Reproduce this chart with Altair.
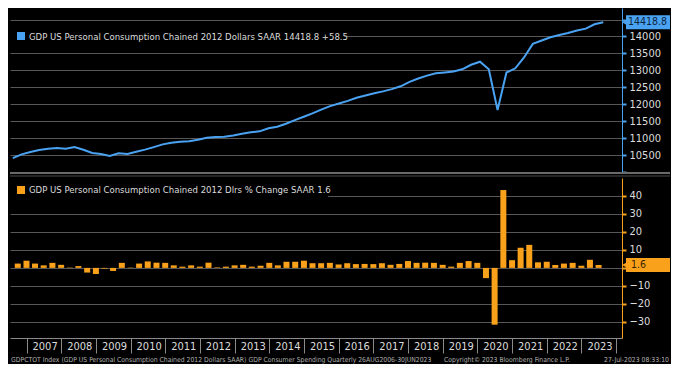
import altair as alt
import pandas as pd

# ---------------- data ----------------
quarters = pd.date_range("2006-09-30", periods=68, freq="QE").strftime("%Y-%m-%d").tolist()

pce_level = [
    10408, 10520, 10590, 10648, 10685, 10708, 10688, 10738, 10655, 10560,
    10530, 10470, 10555, 10530, 10595, 10660, 10735, 10815, 10860, 10890,
    10905, 10950, 11010, 11030, 11040, 11080, 11130, 11170, 11200, 11290,
    11335, 11425, 11530, 11630, 11730, 11840, 11944, 12020, 12100, 12190,
    12260, 12325, 12380, 12445, 12530, 12660, 12760, 12845, 12915, 12940,
    12965, 13030, 13165, 13255, 13030, 11830, 12936, 13060, 13380, 13780,
    13880, 13975, 14045, 14100, 14175, 14230, 14360, 14418.8,
]

pce_change = [
    2.4, 4.0, 2.4, 1.4, 2.8, 1.7, 0.2, 1.0, -2.6, -3.4,
    -0.4, -1.7, 2.8, 0.2, 2.4, 3.6, 2.9, 2.8, 1.4, 0.7,
    1.4, 0.7, 2.9, 0.3, 0.7, 1.4, 1.7, 0.7, 1.2, 2.8,
    1.4, 3.4, 3.4, 4.0, 2.6, 2.6, 2.8, 1.9, 2.6, 2.1,
    2.2, 2.1, 2.6, 1.7, 2.2, 3.8, 2.8, 2.9, 2.8, 1.7,
    0.7, 2.8, 3.8, 2.8, -5.7, -31.6, 43.3, 4.3, 11.2, 12.8,
    3.1, 3.4, 1.6, 2.4, 2.8, 1.2, 4.5, 1.6,
]

top_ticks = [10000, 10500, 11000, 11500, 12000, 12500, 13000, 13500, 14000, 14500]
bottom_ticks = [-30, -20, -10, 0, 10, 20, 30, 40]
year_ticks = list(range(2007, 2025))

top_legend = ["GDP US Personal Consumption Chained 2012 Dollars SAAR 14418.8  +58.5"]
bottom_legend = ["GDP US Personal Consumption Chained 2012 Dlrs % Change SAAR 1.6"]
footer_left = ["GDPCTOT Index (GDP US Personal Consumption Chained 2012 Dollars SAAR) GDP Consumer Spending  Quarterly 26AUG2006-30JUN2023"]
footer_mid = ["Copyright\u00a9 2023 Bloomberg Finance L.P."]
footer_right = ["27-Jul-2023 08:33:10"]

# ---------------- style ----------------
W = 612
H1 = 164
H2 = 160
BLUE = "#4aa3f2"
ORANGE = "#f9a11b"
GRID = "#575757"
TXT = "#dcdcdc"
FONT = "DejaVu Sans Condensed, Liberation Sans Narrow, Roboto, sans-serif"

top_df = pd.DataFrame({"date": quarters, "level": pce_level})
bot_df = pd.DataFrame({"date": quarters, "chg": pce_change})
one = pd.DataFrame({"k": [0]})

x_scale = alt.Scale(
    type="utc",
    domain=[alt.DateTime(year=2006, month=9, date=1, utc=True),
            alt.DateTime(year=2024, month=1, date=10, utc=True)],
)

y_top = alt.Scale(domain=[10000, 14840], nice=False, zero=False)
y_bot = alt.Scale(domain=[-39, 50], nice=False, zero=False)

# ---------------- top panel ----------------
line = alt.Chart(top_df).mark_line(color=BLUE, strokeWidth=2).encode(
    x=alt.X("date:T", scale=x_scale, axis=None),
    y=alt.Y("level:Q", scale=y_top, axis=alt.Axis(
        orient="right", values=top_ticks, tickCount=40, title=None,
        labelExpr="(datum.value == 10000 || datum.value == 14500) ? '' : datum.label",
        format="d", grid=True, gridColor=GRID, gridWidth=1, labelOverlap=False,
        domainColor=BLUE, tickColor=BLUE, tickSize=4, tickWidth=2,
        labelColor=TXT, labelFontSize=11, labelFont=FONT, labelPadding=3)),
)

top_box = alt.Chart(one).mark_rect(color="black").encode(
    x=alt.value(0), x2=alt.value(334), y=alt.value(16), y2=alt.value(41))
top_sq = alt.Chart(one).mark_rect(color=BLUE).encode(
    x=alt.value(7), x2=alt.value(15), y=alt.value(24), y2=alt.value(32))
top_txt = alt.Chart(pd.DataFrame({"t": top_legend})).mark_text(
    align="left", baseline="middle", color=TXT, fontSize=9.5, font=FONT).encode(
    x=alt.value(19), y=alt.value(28.5), text="t:N")

top_tag = alt.Chart(one).mark_rect(color=BLUE, yOffset=-7, y2Offset=7).encode(
    x=alt.value(W + 4), x2=alt.value(W + 48),
    y=alt.datum(pce_level[-1]), y2=alt.datum(pce_level[-1]))
top_ptr = alt.Chart(one).mark_point(shape="triangle-left", filled=True, color=BLUE,
                                    size=45, opacity=1).encode(
    x=alt.value(W + 3), y=alt.datum(pce_level[-1]))
top_tag_txt = alt.Chart(pd.DataFrame({"t": [f"{pce_level[-1]:.1f}"]})).mark_text(
    align="left", baseline="middle", color="#0d2340", fontSize=10.5, font=FONT).encode(
    x=alt.value(W + 6), y=alt.datum(pce_level[-1]), text="t:N")

sep1 = alt.Chart(one).mark_rule(color="#6a6a6a", strokeWidth=2).encode(
    x=alt.value(0), x2=alt.value(W + 48), y=alt.value(H1 + 1))
sep2 = alt.Chart(one).mark_rule(color="#4a4a4a", strokeWidth=1).encode(
    x=alt.value(0), x2=alt.value(W + 48), y=alt.value(H1 + 4))

top = alt.layer(line, top_box, top_sq, top_txt, top_tag, top_ptr, top_tag_txt, sep1, sep2).properties(
    width=W, height=H1)

# ---------------- bottom panel ----------------
bars = alt.Chart(bot_df).mark_bar(size=6, color=ORANGE).encode(
    x=alt.X("date:T", scale=x_scale, axis=alt.Axis(
        values=[alt.DateTime(year=y, month=1, date=1, utc=True) for y in year_ticks],
        tickCount=40,
        labelExpr="utcFormat(datum.value, '%Y') == '2024' ? '' : utcFormat(datum.value, '%Y')",
        title=None, grid=False, tickSize=15, tickColor="#8a8a8a", domainColor="#8a8a8a",
        labelOffset=18, labelPadding=-13, labelColor=TXT, labelFontSize=11, labelFont=FONT,
        labelOverlap=False, labelFlush=False, labelBaseline="top")),
    y=alt.Y("chg:Q", scale=y_bot, axis=alt.Axis(
        orient="right", values=bottom_ticks, tickCount=40, title=None,
        labelExpr="datum.value == 0 ? '' : datum.label",
        grid=True, gridColor=GRID, gridWidth=1, labelOverlap=False,
        domainColor=ORANGE, tickColor=ORANGE, tickSize=4, tickWidth=2,
        labelColor=TXT, labelFontSize=11, labelFont=FONT, labelPadding=3)),
    y2=alt.datum(0),
)

bot_box = alt.Chart(one).mark_rect(color="black").encode(
    x=alt.value(0), x2=alt.value(318), y=alt.value(3), y2=alt.value(21))
bot_sq = alt.Chart(one).mark_rect(color=ORANGE).encode(
    x=alt.value(7), x2=alt.value(15), y=alt.value(8), y2=alt.value(16))
bot_txt = alt.Chart(pd.DataFrame({"t": bottom_legend})).mark_text(
    align="left", baseline="middle", color=TXT, fontSize=9.5, font=FONT).encode(
    x=alt.value(19), y=alt.value(12), text="t:N")

bot_tag = alt.Chart(one).mark_rect(color=ORANGE, yOffset=-7, y2Offset=7).encode(
    x=alt.value(W + 4), x2=alt.value(W + 48),
    y=alt.datum(pce_change[-1]), y2=alt.datum(pce_change[-1]))
bot_ptr = alt.Chart(one).mark_point(shape="triangle-left", filled=True, color=ORANGE,
                                    size=45, opacity=1).encode(
    x=alt.value(W + 3), y=alt.datum(pce_change[-1]))
bot_tag_txt = alt.Chart(pd.DataFrame({"t": [f"{pce_change[-1]:.1f}"]})).mark_text(
    align="left", baseline="middle", color="#3a2400", fontSize=10.5, font=FONT).encode(
    x=alt.value(W + 9), y=alt.datum(pce_change[-1]), text="t:N")

foot_l = alt.Chart(pd.DataFrame({"t": footer_left})).mark_text(
    align="left", baseline="middle", color="#b0b0b0", fontSize=6.8, font=FONT).encode(
    x=alt.value(1), y=alt.value(H2 + 22), text="t:N")
foot_m = alt.Chart(pd.DataFrame({"t": footer_mid})).mark_text(
    align="left", baseline="middle", color="#b0b0b0", fontSize=6.8, font=FONT).encode(
    x=alt.value(434), y=alt.value(H2 + 22), text="t:N")
foot_r = alt.Chart(pd.DataFrame({"t": footer_right})).mark_text(
    align="right", baseline="middle", color="#b0b0b0", fontSize=6.8, font=FONT).encode(
    x=alt.value(W + 47), y=alt.value(H2 + 22), text="t:N")

bottom = alt.layer(bars, bot_box, bot_sq, bot_txt, bot_tag, bot_ptr, bot_tag_txt,
                   foot_l, foot_m, foot_r).properties(width=W, height=H2)

chart = alt.vconcat(top, bottom, spacing=6, bounds="flush").properties(
    background="black",
    padding={"left": 0, "top": 0, "right": 0, "bottom": 0},
).configure_view(stroke=None)

chart.save("out.html", embed_options={"renderer": "svg", "actions": False})
